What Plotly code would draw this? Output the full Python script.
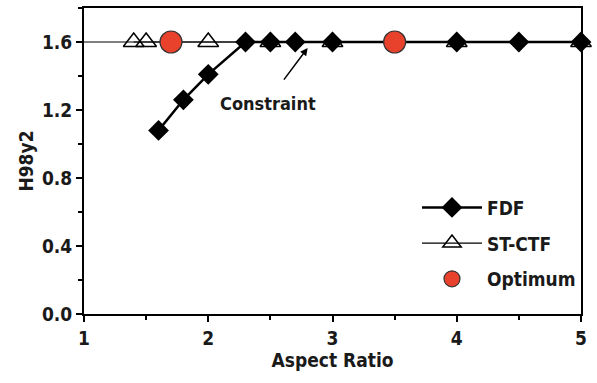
import plotly.graph_objects as go

# Data
fdf_x = [1.6, 1.8, 2.0, 2.3, 2.5, 2.7, 3.0, 4.0, 4.5, 5.0]
fdf_y = [1.08, 1.26, 1.41, 1.6, 1.6, 1.6, 1.6, 1.6, 1.6, 1.6]
st_x = [1.4, 1.5, 2.0, 2.5, 3.0, 4.0, 5.0]
st_y = [1.6, 1.6, 1.6, 1.6, 1.6, 1.6, 1.6]
opt_x = [1.7, 3.5]
opt_y = [1.6, 1.6]
constraint_y = 1.6
x_ticks = [1, 2, 3, 4, 5]
y_ticks = [0.0, 0.4, 0.8, 1.2, 1.6]
y_tick_labels = ["0.0", "0.4", "0.8", "1.2", "1.6"]

FONT = "Liberation Sans Narrow, DejaVu Sans Condensed, Arial Narrow, Liberation Sans"
TXT = "#1a1a1a"

fig = go.Figure()
fig.add_trace(go.Scatter(x=[1, 5], y=[constraint_y, constraint_y], mode="lines",
                         line=dict(color="black", width=1.2), showlegend=False,
                         hoverinfo="skip"))
fig.add_trace(go.Scatter(x=fdf_x, y=fdf_y, mode="lines+markers", name="FDF",
                         legendgroup="a", legendrank=1,
                         line=dict(color="black", width=2.5),
                         marker=dict(symbol="diamond", size=16, color="black"),
                         cliponaxis=False))
fig.add_trace(go.Scatter(x=st_x, y=st_y, mode="lines+markers", name="ST-CTF",
                         legendgroup="b", legendrank=2,
                         line=dict(color="black", width=1.2),
                         marker=dict(symbol="triangle-up", size=18,
                                     color="rgba(255,255,255,0)",
                                     line=dict(width=1.5, color="black")),
                         cliponaxis=False))
fig.add_trace(go.Scatter(x=opt_x, y=opt_y, mode="markers", name="Optimum",
                         legendgroup="c", legendrank=3,
                         marker=dict(symbol="circle", size=22, color="#e8412c",
                                     line=dict(color="#333333", width=1.2)),
                         cliponaxis=False))

fig.add_annotation(x=2.8, y=1.565, ax=2.6, ay=1.37, xref="x", yref="y",
                   axref="x", ayref="y", showarrow=True, arrowhead=2,
                   arrowsize=1, arrowwidth=1.5, arrowcolor="black", text="")
fig.add_annotation(x=2.48, y=1.24, xref="x", yref="y", text="<b>Constraint</b>",
                   showarrow=False, font=dict(size=18, color=TXT, family=FONT))

axis_common = dict(showline=True, linecolor="black", linewidth=2, mirror=True,
                   ticks="outside", ticklen=6, tickwidth=2, tickcolor="black",
                   showgrid=False, zeroline=False,
                   tickfont=dict(size=19, color=TXT, family=FONT, weight="bold"))
fig.update_xaxes(range=[1, 5], tickvals=x_ticks,
                 minor=dict(dtick=0.5, ticks="outside", ticklen=4, tickwidth=2,
                            tickcolor="black"),
                 title=dict(text="<b>Aspect Ratio</b>",
                            font=dict(size=19, color=TXT, family=FONT), standoff=2),
                 **axis_common)
fig.update_yaxes(range=[0, 1.8], tickvals=y_ticks, ticktext=y_tick_labels,
                 minor=dict(dtick=0.2, ticks="outside", ticklen=4, tickwidth=2,
                            tickcolor="black"),
                 title=dict(text="<b>H98y2</b>",
                            font=dict(size=19, color=TXT, family=FONT), standoff=3),
                 **axis_common)

fig.update_layout(width=597, height=383, margin=dict(l=84, r=16, t=6, b=69),
                  plot_bgcolor="white", paper_bgcolor="white",
                  legend=dict(x=0.67, y=0.41, xanchor="left", yanchor="top",
                              bgcolor="rgba(0,0,0,0)", tracegroupgap=8,
                              font=dict(size=19, color=TXT, family=FONT, weight="bold"),
                              itemwidth=60))

fig.write_html("out.html", config={"displayModeBar": False},
               post_script="document.body.style.margin='0px';")
